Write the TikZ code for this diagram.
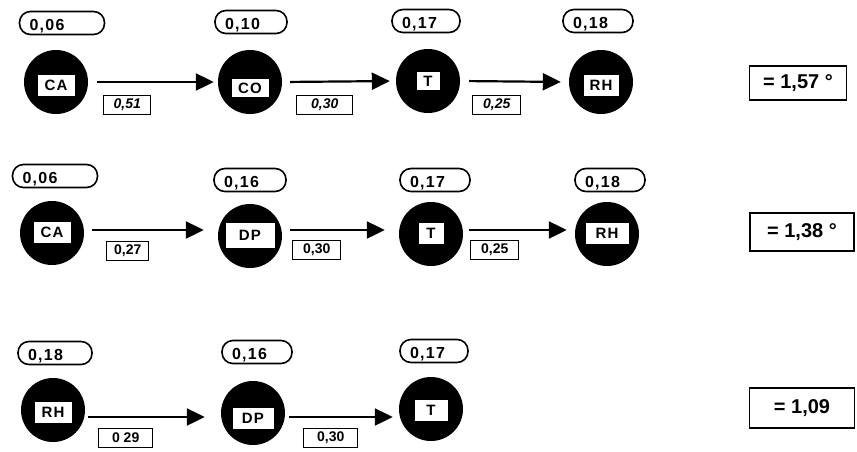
\documentclass[tikz,border=0pt]{standalone}
\usepackage{fontspec}
\setmainfont{Liberation Sans}
\usetikzlibrary{arrows.meta}
\newcommand{\lft}[2]{\raisebox{-1.5pt}{\makebox[#1][l]{#2}}}
\tikzset{
  hub/.style={circle, fill=black, minimum size=64pt, inner sep=0pt},
  tag/.style={fill=white, draw=black, line width=0.8pt, minimum width=38pt, minimum height=22pt, inner sep=1pt, font=\fontsize{15}{15}\selectfont\bfseries\addfontfeature{LetterSpace=8}},
  val/.style={draw, line width=1.6pt, rounded corners=11pt, minimum height=23pt, text height=11.5pt, text depth=0pt, inner xsep=10pt, inner ysep=0pt, font=\fontsize{16}{16}\selectfont\bfseries\addfontfeature{LetterSpace=8}},
  wt/.style={draw, line width=1.4pt, minimum height=19pt, inner sep=1pt, font=\fontsize{14}{14}\selectfont\bfseries},
  wti/.style={wt, font=\fontsize{14}{14}\selectfont\bfseries\itshape},
  link/.style={line width=2.2pt, -{Triangle[length=18pt,width=17pt]}},
  total/.style={draw, line width=1.6pt, inner sep=0pt, font=\fontsize{20}{20}\selectfont\bfseries}
}
\begin{document}
\begin{tikzpicture}[x=1pt,y=-1pt]
\useasboundingbox (0,0) rectangle (857,451);
% ---------- row 1 ----------
\node[hub] (a1) at (56,82) {};
\node[hub] (b1) at (250,82) {};
\node[hub] (c1) at (428,81) {};
\node[hub] (d1) at (601,82) {};
\node[tag] (ta1) at ([yshift=-3pt]a1) {CA};
\node[tag, minimum height=19pt] (tb1) at ([yshift=-6pt]b1) {CO};
\node[tag, minimum width=24pt, minimum height=19pt] (tc1) at ([yshift=0pt]c1) {T};
\node[tag, minimum width=36pt] (td1) at ([yshift=-3pt]d1) {RH};
\node[val] (pa1) at (62,23) {\lft{65pt}{0,06}};
\node[val] (pb1) at (251,22) {\lft{52pt}{0,10}};
\node[val] (pc1) at (426,21) {\lft{48pt}{0,17}};
\node[val] (pd1) at (598,21) {\lft{50pt}{0,18}};
\draw[link, shorten <=9pt, shorten >=4pt] (a1.east) -- (b1.west);
\draw[link, shorten <=8pt, shorten >=6pt] (b1.east) -- (c1.west);
\draw[link, shorten <=9pt, shorten >=8pt] (c1.east) -- (d1.west);
\node[wti, minimum width=47pt, anchor=west] (wa1) at (103,105) {0,51};
\node[wti, minimum width=56pt, anchor=west] (wb1) at (296,105) {0,30};
\node[wti, minimum width=48pt, anchor=west] (wc1) at (472,105) {0,25};
\node[total, minimum width=97pt, minimum height=34pt] (s1) at (798,83) {= 1,57 °};
% ---------- row 2 ----------
\node[hub] (a2) at (52,233) {};
\node[hub] (b2) at (250,236) {};
\node[hub] (c2) at (431,234) {};
\node[hub] (d2) at (607,234) {};
\node[tag] (ta2) at ([yshift=1pt]a2) {CA};
\node[tag, minimum width=50pt, minimum height=26pt] (tb2) at ([yshift=1pt]b2) {DP};
\node[tag, minimum width=26pt] (tc2) at ([yshift=1pt]c2) {T};
\node[tag, minimum width=44pt] (td2) at ([yshift=1pt]d2) {RH};
\node[val] (pa2) at (55,176) {\lft{65pt}{0,06}};
\node[val] (pb2) at (250,180) {\lft{52pt}{0,16}};
\node[val] (pc2) at (435,180) {\lft{50pt}{0,17}};
\node[val] (pd2) at (610,180) {\lft{50pt}{0,18}};
\draw[link, shorten <=8pt, shorten >=14pt] ([yshift=3pt]a2.east) -- ([yshift=6pt]b2.west);
\draw[link, shorten <=8pt, shorten >=14pt] ([yshift=6pt]b2.east) -- ([yshift=4pt]c2.west);
\draw[link, shorten <=6pt, shorten >=8pt] ([yshift=4pt]c2.east) -- ([yshift=4pt]d2.west);
\node[wt, minimum width=42pt, anchor=west] (wa2) at (106,251) {0,27};
\node[wt, minimum width=48pt, anchor=west] (wb2) at (292,250) {0,30};
\node[wt, minimum width=48pt, anchor=west] (wc2) at (470,250) {0,25};
\node[total, minimum width=104pt, minimum height=38pt] (s2) at (802,232) {= 1,38 °};
% ---------- row 3 ----------
\node[hub] (a3) at (53,410) {};
\node[hub] (b3) at (253,413) {};
\node[hub] (c3) at (431,409) {};
\node[tag] (ta3) at ([yshift=-2pt]a3) {RH};
\node[tag, minimum width=42pt] (tb3) at ([yshift=-5pt]b3) {DP};
\node[tag, minimum width=34pt] (tc3) at ([yshift=-1pt]c3) {T};
\node[val] (pa3) at (55,353) {\lft{54pt}{0,18}};
\node[val] (pb3) at (257,352) {\lft{50pt}{0,16}};
\node[val] (pc3) at (434,351) {\lft{48pt}{0,17}};
\draw[link, shorten <=3pt, shorten >=16pt] ([yshift=-7pt]a3.east) -- ([yshift=-4pt]b3.west);
\draw[link, shorten <=4pt, shorten >=6pt] ([yshift=-4pt]b3.east) -- ([yshift=-8pt]c3.west);
\node[wt, minimum width=54pt, anchor=west] (wa3) at (98,438) {0 29};
\node[wt, minimum width=54pt, anchor=west] (wb3) at (303,438) {0,30};
\node[total, minimum width=105pt, minimum height=40pt] (s3) at (802,408) {= 1,09\hspace{14pt}};
\end{tikzpicture}
\end{document}
